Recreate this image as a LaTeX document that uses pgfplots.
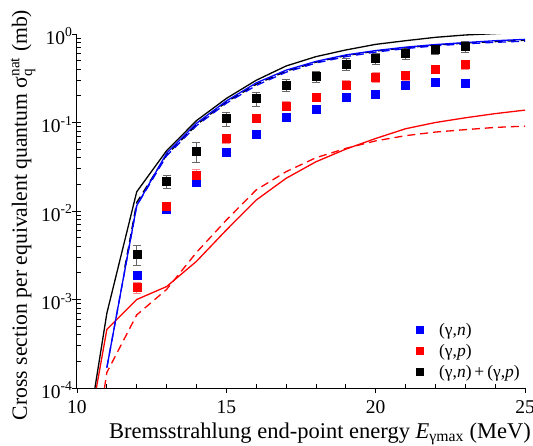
\documentclass[border=0pt]{standalone}
\usepackage{pgfplots}
\pgfplotsset{compat=1.18}
\usepackage{amsmath}
\usepackage{fontspec}
\setmainfont{Liberation Serif}
\newcommand{\legfont}{\fontsize{17.5}{19}\selectfont}
\begin{document}
\begin{tikzpicture}
\begin{axis}[
  scale only axis, width=448pt, height=354pt,
  xmin=10, xmax=25, ymin=1e-4, ymax=1,
  ymode=log,
  axis lines=left, axis line style={-, line width=1pt},
  xtick={10,15,20,25}, xticklabels={10,15,20,25},
  minor x tick num=4,
  ytick={1e-4,1e-3,1e-2,1e-1,1},
  yticklabels={10\textsuperscript{-4},10\textsuperscript{-3},10\textsuperscript{-2},10\textsuperscript{-1},10\textsuperscript{0}},
  tick align=outside, major tick length=5pt, minor tick length=-4pt,
  tick style={line width=0.8pt, black},
  ticklabel style={font=\fontsize{19.5}{22}\selectfont},
  xticklabel style={anchor=base, yshift=-20pt},
  yticklabel style={xshift=4pt, yshift=-2pt},
  label style={font=\fontsize{22}{26}\selectfont},
  xlabel={Bremsstrahlung end-point energy \textit{E}$_{\text{γmax}}$ (MeV)},
  ylabel={Cross section per equivalent quantum $\text{σ}^{\text{nat}}_{\text{q}}$ (mb)},
  xlabel style={at={([xshift=19pt,yshift=-50pt]axis description cs:0.5,0)}, anchor=base, font=\fontsize{22.5}{26}\selectfont},
  ylabel style={at={([xshift=-50pt,yshift=-4pt]axis description cs:0,0.5)}, anchor=base, font=\fontsize{21.7}{26}\selectfont},
  clip=true,
  legend style={at={(1,0)}, anchor=south east, xshift=0pt, yshift=5pt, draw=none, fill=none,
    row sep=3.5pt, column sep=14pt, font=\legfont},
  legend cell align=left,
]
% data points
\addplot[only marks, mark=square*, mark size=4pt, blue, forget plot,
  error bars/.cd, y dir=both, y explicit, error bar style={blue!40, line width=0.6pt}]
coordinates {
(12,0.00186) +- (0,0.0001)
(13,0.0105) +- (0,0.0005)
(14,0.0214) +- (0,0.001)
(15,0.046) +- (0,0.0023)
(16,0.073) +- (0,0.0036)
(17,0.116) +- (0,0.006)
(18,0.140) +- (0,0.007)
(19,0.192) +- (0,0.010)
(20,0.208) +- (0,0.010)
(21,0.265) +- (0,0.013)
(22,0.289) +- (0,0.014)
(23,0.275) +- (0,0.014)
};
\addplot[only marks, mark=square*, mark size=4pt, red, forget plot,
  error bars/.cd, y dir=both, y explicit, error bar style={red!45, line width=0.6pt}]
coordinates {
(12,0.00137) +- (0,0.0002)
(13,0.0114) +- (0,0.0011)
(14,0.0255) +- (0,0.0038)
(15,0.066) +- (0,0.008)
(16,0.111) +- (0,0.011)
(17,0.154) +- (0,0.018)
(18,0.192) +- (0,0.019)
(19,0.267) +- (0,0.032)
(20,0.327) +- (0,0.039)
(21,0.338) +- (0,0.040)
(22,0.402) +- (0,0.040)
(23,0.454) +- (0,0.055)
};
\addplot[only marks, mark=square*, mark size=4pt, black, forget plot,
  error bars/.cd, y dir=both, y explicit, error bar style={black!60, line width=0.6pt}]
coordinates {
(12,0.00327) +- (0,0.0008)
(13,0.0218) +- (0,0.0037)
(14,0.048) +- (0,0.012)
(15,0.111) +- (0,0.020)
(16,0.186) +- (0,0.032)
(17,0.267) +- (0,0.040)
(18,0.333) +- (0,0.050)
(19,0.460) +- (0,0.070)
(20,0.535) +- (0,0.075)
(21,0.605) +- (0,0.090)
(22,0.680) +- (0,0.095)
(23,0.726) +- (0,0.110)
};
% curves
\addplot[red, line width=1.3pt, forget plot] coordinates {
(10.65,1e-4) (11,4.6e-4) (12,1.0e-3) (13,1.4e-3) (14,2.7e-3) (15,6.1e-3) (16,0.0133) (17,0.0234)
(18,0.036) (19,0.050) (20,0.066) (21,0.085) (22,0.100) (23,0.113) (24,0.126) (25,0.138)};
\addplot[red, line width=1.3pt, dash pattern=on 8pt off 5pt, forget plot] coordinates {
(10.92,1e-4) (11,1.5e-4) (12,6.7e-4) (13,1.3e-3) (14,3.4e-3) (15,7.9e-3) (16,0.0173) (17,0.0278)
(18,0.040) (19,0.051) (20,0.062) (21,0.071) (22,0.078) (23,0.083) (24,0.088) (25,0.091)};
\addplot[black, line width=1.3pt, dash pattern=on 8pt off 5pt, forget plot] coordinates {
(11.6,2.3e-3) (12,0.0125) (13,0.043) (14,0.094) (15,0.17) (16,0.27) (17,0.38) (18,0.48)
(19,0.57) (20,0.64) (21,0.70) (22,0.75) (23,0.79) (24,0.82) (25,0.85)};
\addplot[blue, line width=1.3pt, dash pattern=on 8pt off 5pt, forget plot] coordinates {
(11,1.7e-4) (12,0.0115) (13,0.042) (14,0.092) (15,0.165) (16,0.262) (17,0.37) (18,0.47)
(19,0.555) (20,0.625) (21,0.685) (22,0.735) (23,0.775) (24,0.805) (25,0.83)};
\addplot[blue, line width=1.3pt, forget plot] coordinates {
(11,1.7e-4) (12,0.0115) (13,0.045) (14,0.098) (15,0.175) (16,0.28) (17,0.39) (18,0.49)
(19,0.58) (20,0.65) (21,0.71) (22,0.76) (23,0.80) (24,0.84) (25,0.87)};
\addplot[black, line width=1.3pt, forget plot] coordinates {
(10.6,1e-4) (11,7e-4) (12,0.0165) (13,0.048) (14,0.105) (15,0.187) (16,0.30) (17,0.435)
(18,0.555) (19,0.66) (20,0.764) (21,0.84) (22,0.917) (23,0.975) (24,1.01) (25,1.045)};
% legend
\addlegendimage{only marks, mark=square*, mark size=3.5pt, blue}
\addlegendentry{(γ,\textit{n})}
\addlegendimage{only marks, mark=square*, mark size=3.5pt, red}
\addlegendentry{(γ,\textit{p})}
\addlegendimage{only marks, mark=square*, mark size=3.5pt, black}
\addlegendentry{(γ,\textit{n})\,+\,(γ,\textit{p})}
\end{axis}
\pgfresetboundingbox
\path[use as bounding box] ([shift={(-77pt,-57pt)}]current axis.south west) rectangle ++(533pt,445pt);
\end{tikzpicture}
\end{document}
